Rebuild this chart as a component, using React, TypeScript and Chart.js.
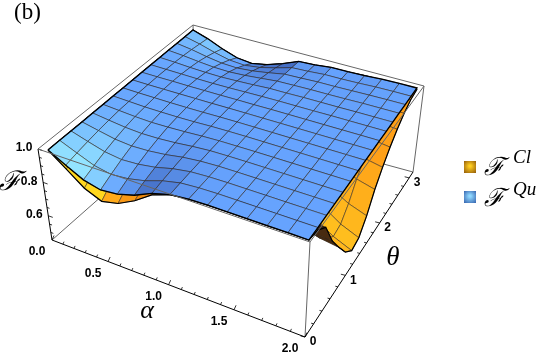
import React, { useEffect, useRef } from "react";
import { Chart, registerables } from "chart.js";

Chart.register(...registerables);

// ---- data -----------------------------------------------------------------
const alphaGrid = [0, 0.143, 0.286, 0.429, 0.571, 0.714, 0.857, 1, 1.143, 1.286, 1.429, 1.571, 1.714, 1.857, 2];
const thetaGrid = [0, 0.209, 0.419, 0.628, 0.838, 1.047, 1.257, 1.466, 1.676, 1.885, 2.094, 2.304, 2.513, 2.723, 2.932, 3.142];

// rows: alpha, columns: theta
const quantumValues = [
  [1, 1, 1, 1, 1, 1, 1, 1, 1, 1, 1, 1, 1, 1, 1, 1],
  [0.943, 0.957, 0.969, 0.979, 0.987, 0.993, 0.996, 0.998, 0.999, 0.999, 0.998, 0.996, 0.992, 0.986, 0.978, 0.97],
  [0.89, 0.916, 0.94, 0.959, 0.975, 0.986, 0.992, 0.997, 0.999, 0.999, 0.996, 0.99, 0.981, 0.967, 0.95, 0.93],
  [0.865, 0.897, 0.926, 0.95, 0.969, 0.982, 0.991, 0.996, 0.999, 0.998, 0.994, 0.986, 0.972, 0.952, 0.927, 0.898],
  [0.876, 0.906, 0.932, 0.954, 0.971, 0.984, 0.991, 0.996, 0.999, 0.998, 0.993, 0.984, 0.969, 0.947, 0.919, 0.887],
  [0.906, 0.929, 0.948, 0.965, 0.978, 0.988, 0.993, 0.997, 0.999, 0.998, 0.994, 0.987, 0.974, 0.955, 0.931, 0.904],
  [0.954, 0.965, 0.975, 0.983, 0.989, 0.994, 0.997, 0.999, 1, 0.999, 0.996, 0.991, 0.983, 0.97, 0.954, 0.936],
  [0.985, 0.989, 0.992, 0.994, 0.997, 0.998, 0.999, 1, 1, 0.999, 0.998, 0.997, 0.993, 0.988, 0.982, 0.975],
  [0.996, 0.997, 0.998, 0.999, 0.999, 0.999, 1, 1, 1, 1, 0.999, 0.997, 0.995, 0.991, 0.986, 0.98],
  [1, 1, 1, 1, 1, 1, 1, 1, 1, 1, 0.999, 0.999, 0.997, 0.995, 0.993, 0.99],
  [1, 1, 1, 1, 1, 1, 1, 1, 1, 1, 0.999, 0.999, 0.997, 0.995, 0.993, 0.99],
  [1, 1, 1, 1, 1, 1, 1, 1, 1, 1, 1, 0.999, 0.998, 0.997, 0.995, 0.993],
  [1, 1, 1, 1, 1, 1, 1, 1, 1, 1, 1, 1, 1, 0.999, 0.999, 0.998],
  [1, 1, 1, 1, 1, 1, 1, 1, 1, 1, 1, 1, 1, 1, 1, 1],
  [1, 1, 1, 1, 1, 1, 1, 1, 1, 1, 1, 1, 1, 1, 1, 1],
];

const classicalValues = [
  [1, 1, 1, 1, 1, 1, 1, 1, 1, 1, 1, 1, 1, 1, 1, 1],
  [0.92, 0.95, 0.966, 0.976, 0.985, 0.991, 0.995, 0.997, 0.998, 0.998, 0.997, 0.995, 0.99, 0.984, 0.976, 0.968],
  [0.84, 0.89, 0.935, 0.955, 0.972, 0.984, 0.99, 0.995, 0.997, 0.997, 0.994, 0.988, 0.979, 0.965, 0.948, 0.928],
  [0.797, 0.855, 0.92, 0.945, 0.966, 0.98, 0.989, 0.994, 0.997, 0.996, 0.992, 0.984, 0.97, 0.95, 0.925, 0.896],
  [0.82, 0.875, 0.927, 0.95, 0.968, 0.982, 0.989, 0.994, 0.997, 0.996, 0.991, 0.982, 0.967, 0.945, 0.917, 0.885],
  [0.873, 0.91, 0.944, 0.962, 0.975, 0.986, 0.991, 0.995, 0.997, 0.996, 0.992, 0.985, 0.972, 0.953, 0.929, 0.902],
  [0.945, 0.955, 0.972, 0.98, 0.987, 0.992, 0.995, 0.997, 0.998, 0.997, 0.994, 0.989, 0.981, 0.968, 0.952, 0.934],
  [0.985, 0.987, 0.99, 0.992, 0.995, 0.996, 0.997, 0.998, 0.998, 0.997, 0.996, 0.995, 0.991, 0.986, 0.98, 0.973],
  [0.996, 0.994, 0.987, 0.98, 0.975, 0.971, 0.97, 0.972, 0.976, 0.982, 0.987, 0.991, 0.993, 0.989, 0.984, 0.978],
  [1, 0.994, 0.978, 0.96, 0.941, 0.924, 0.913, 0.915, 0.928, 0.946, 0.96, 0.972, 0.982, 0.99, 0.991, 0.988],
  [1, 0.995, 0.97, 0.89, 0.86, 0.852, 0.831, 0.835, 0.86, 0.895, 0.922, 0.945, 0.965, 0.981, 0.99, 0.988],
  [1, 0.992, 0.95, 0.84, 0.78, 0.767, 0.735, 0.741, 0.78, 0.835, 0.877, 0.914, 0.945, 0.97, 0.988, 0.993],
  [1, 0.99, 0.94, 0.8, 0.72, 0.683, 0.64, 0.648, 0.7, 0.775, 0.833, 0.883, 0.925, 0.959, 0.984, 0.993],
  [1, 0.988, 0.93, 0.79, 0.69, 0.619, 0.566, 0.577, 0.64, 0.73, 0.8, 0.86, 0.91, 0.95, 0.98, 0.991],
  [1, 0.985, 0.93, 0.78, 0.673, 0.577, 0.518, 0.53, 0.6, 0.7, 0.777, 0.844, 0.9, 0.945, 0.978, 0.99],
];

const alphaMajor = [0, 0.5, 1, 1.5, 2];
const alphaMinor = [0.1, 0.2, 0.3, 0.4, 0.6, 0.7, 0.8, 0.9, 1.1, 1.2, 1.3, 1.4, 1.6, 1.7, 1.8, 1.9];
const thetaMajor = [0, 1, 2, 3];
const thetaMinor = [0.2, 0.4, 0.6, 0.8, 1.2, 1.4, 1.6, 1.8, 2.2, 2.4, 2.6, 2.8];
const fMajor = [0.6, 0.8, 1];
const fMinor = [0.5, 0.55, 0.65, 0.7, 0.75, 0.85, 0.9, 0.95];
const alphaLabels = ["0.0", "0.5", "1.0", "1.5", "2.0"];
const thetaLabels = ["0", "1", "2", "3"];
const fLabels = ["0.6", "0.8", "1.0"];

// ---- view of the box (the projection, not the data) ------------------------
type P = { x: number; y: number };
const ALPHA_MAX = 2;
const THETA_MAX = 3.142;
const F_TOP = 1;
const F_BOTTOM = 0.455;

function quad(c: number[][]) {
  const [[x0, y0], [x1, y1], [x2, y2], [x3, y3]] = c;
  const dx1 = x1 - x2, dx2 = x3 - x2, sx = x0 - x1 + x2 - x3;
  const dy1 = y1 - y2, dy2 = y3 - y2, sy = y0 - y1 + y2 - y3;
  const den = dx1 * dy2 - dx2 * dy1;
  const g = (sx * dy2 - dx2 * sy) / den;
  const h = (dx1 * sy - sx * dy1) / den;
  const a = x1 - x0 + g * x1, b = x3 - x0 + h * x3;
  const d = y1 - y0 + g * y1, e = y3 - y0 + h * y3;
  return (u: number, v: number): P => {
    const w = g * u + h * v + 1;
    return { x: (a * u + b * v + x0) / w, y: (d * u + e * v + y0) / w };
  };
}
// corners in order (alpha0,theta0), (alpha2,theta0), (alpha2,thetaMax), (alpha0,thetaMax)
const boxTop = quad([[38, 149], [310, 242], [424, 86], [193, 25]]);
const boxBottom = quad([[52, 240], [305, 337], [413, 172], [196, 113]]);
const surfaceTop = quad([[48, 150], [309, 240], [417, 88], [193, 30]]);

function onBox(alpha: number, theta: number, f: number): P {
  const u = alpha / ALPHA_MAX, v = theta / THETA_MAX;
  const t = boxTop(u, v), b = boxBottom(u, v);
  const z = (F_TOP - f) / (F_TOP - F_BOTTOM);
  return { x: t.x + (b.x - t.x) * z, y: t.y + (b.y - t.y) * z };
}
function onSurface(alpha: number, theta: number, f: number): P {
  const u = alpha / ALPHA_MAX, v = theta / THETA_MAX;
  const t = boxTop(u, v), b = boxBottom(u, v), s = surfaceTop(u, v);
  const z = (F_TOP - f) / (F_TOP - F_BOTTOM);
  return { x: s.x + (b.x - t.x) * z, y: s.y + (b.y - t.y) * z };
}

// ---- shading ---------------------------------------------------------------
const mix = (a: number[], b: number[], k: number) =>
  `rgb(${a.map((v, i) => Math.round(v + (b[i] - v) * k)).join(",")})`;

function slopes(table: number[][], i: number, j: number) {
  const dA = (table[i + 1][j] + table[i + 1][j + 1] - table[i][j] - table[i][j + 1]) / 2;
  const dT = (table[i][j + 1] + table[i + 1][j + 1] - table[i][j] - table[i + 1][j]) / 2;
  return { dA, dT };
}
const BLUE_BASE = [102, 163, 254];
const blueColor = (table: number[][], i: number, j: number) => {
  const { dA, dT } = slopes(table, i, j);
  const l = -dA + (dT > 0 ? 0.6 : 0.25) * dT;
  return l > 0
    ? mix(BLUE_BASE, [150, 232, 255], Math.min(1, l * 16))
    : mix(BLUE_BASE, [56, 90, 176], Math.min(1, -l * 20));
};
const UNDERSIDE = "rgb(72,42,16)";
const ORANGE_BASE = [255, 160, 24];
const orangeColor = (table: number[][], i: number, j: number) => {
  const { dA, dT } = slopes(table, i, j);
  if (i >= 10 && j >= 1 && j <= 3 && dT < -0.03) return UNDERSIDE;
  if (i >= 8) return mix(ORANGE_BASE, [255, 190, 30], Math.max(0, 1 - Math.abs(j - 6) / 4));
  const l = -dA + 0.6 * dT;
  if (l <= 0) return mix(ORANGE_BASE, [230, 124, 10], Math.min(1, -l * 14));
  return mix(ORANGE_BASE, [255, 215, 30], Math.min(1, l * 14));
};
const MESH = "rgba(40,35,35,0.62)";
const EDGE = "#000";
const BOX_GRAY = "#666";

function line(points: P[], color: string, width: number) {
  return {
    type: "line" as const,
    data: points,
    borderColor: color,
    borderWidth: width,
    pointRadius: 0,
    tension: 0,
    fill: false,
    clip: false,
  };
}

function surfaceDatasets(table: number[][], colorOf: (t: number[][], i: number, j: number) => string) {
  const out: any[] = [];
  for (let j = thetaGrid.length - 2; j >= 0; j--) {
    for (let i = 0; i < alphaGrid.length - 1; i++) {
      const pts = [
        onSurface(alphaGrid[i], thetaGrid[j], table[i][j]),
        onSurface(alphaGrid[i + 1], thetaGrid[j], table[i + 1][j]),
        onSurface(alphaGrid[i + 1], thetaGrid[j + 1], table[i + 1][j + 1]),
        onSurface(alphaGrid[i], thetaGrid[j + 1], table[i][j + 1]),
      ];
      out.push({
        ...line([...pts, pts[0]], MESH, 0.85),
        backgroundColor: colorOf(table, i, j),
        fill: "shape",
      });
    }
  }
  return out;
}

function outline(table: number[][], width: number) {
  const n = alphaGrid.length - 1, m = thetaGrid.length - 1;
  const pts: P[] = [];
  for (let i = 0; i <= n; i++) pts.push(onSurface(alphaGrid[i], thetaGrid[0], table[i][0]));
  for (let j = 1; j <= m; j++) pts.push(onSurface(alphaGrid[n], thetaGrid[j], table[n][j]));
  for (let i = n - 1; i >= 0; i--) pts.push(onSurface(alphaGrid[i], thetaGrid[m], table[i][m]));
  for (let j = m - 1; j >= 0; j--) pts.push(onSurface(alphaGrid[0], thetaGrid[j], table[0][j]));
  return line(pts, EDGE, width);
}

function buildDatasets() {
  const A = ALPHA_MAX, T = THETA_MAX, L = F_BOTTOM, H = F_TOP;
  const back = [
    line([onBox(0, 0, H), onBox(0, T, H), onBox(A, T, H)], BOX_GRAY, 1),
    line([onBox(0, 0, L), onBox(0, T, L), onBox(A, T, L)], BOX_GRAY, 1),
    line([onBox(0, T, L), onBox(0, T, H)], BOX_GRAY, 1),
    line([onBox(A, T, H), onBox(A, T, L)], BOX_GRAY, 1),
    line([onBox(A, 0, H), onBox(A, 0, L)], BOX_GRAY, 1),
  ];
  const front = [
    line([onBox(0, 0, H), onBox(A, 0, H), onBox(A, T, H)], BOX_GRAY, 1),
    line([onBox(0, 0, H), onBox(0, 0, L)], "#000", 1),
    line([onBox(0, 0, L), onBox(A, 0, L), onBox(A, T, L)], "#000", 1),
  ];
  const ticks: any[] = [];
  const aTick = (v: number, len: number) => {
    const p = onBox(v, 0, L);
    ticks.push(line([p, { x: p.x + len * 0.45, y: p.y - len }], "#000", 0.8));
  };
  alphaMajor.forEach((v) => aTick(v, 4.5));
  alphaMinor.forEach((v) => aTick(v, 2.5));
  const tTick = (v: number, len: number) => {
    const p = onBox(A, v, L);
    ticks.push(line([p, { x: p.x - len, y: p.y - len * 0.25 }], "#000", 0.8));
  };
  thetaMajor.forEach((v) => tTick(v, 4.5));
  thetaMinor.forEach((v) => tTick(v, 2.5));
  const fTick = (v: number, len: number) => {
    const p = onBox(0, 0, v);
    ticks.push(line([p, { x: p.x + len, y: p.y + len * 0.35 }], "#000", 0.8));
  };
  fMajor.forEach((v) => fTick(v, 4.5));
  fMinor.forEach((v) => fTick(v, 2.5));

  const painted = [
    ...back,
    ...front.slice(1),
    ...ticks,
    ...surfaceDatasets(classicalValues, orangeColor),
    outline(classicalValues, 1.2),
    ...surfaceDatasets(quantumValues, blueColor),
    outline(quantumValues, 1.3),
    front[0],
  ];
  // Chart.js paints the first dataset last
  return painted.reverse();
}

const labelsPlugin = {
  id: "labels3d",
  afterDatasetsDraw(chart: any) {
    const ctx = chart.ctx as CanvasRenderingContext2D;
    const sx = chart.scales.x, sy = chart.scales.y;
    const put = (text: string, px: number, py: number, font: string, align: CanvasTextAlign = "center", base: CanvasTextBaseline = "middle", color = "#000") => {
      ctx.font = font;
      ctx.textAlign = align;
      ctx.textBaseline = base;
      ctx.fillStyle = color;
      ctx.fillText(text, px, py);
    };
    const at = (p: P, dx: number, dy: number, text: string) =>
      put(text, sx.getPixelForValue(p.x) + dx, sy.getPixelForValue(p.y) + dy, "bold 12px 'Liberation Sans'");
    ctx.save();
    alphaMajor.forEach((v, i) => at(onBox(v, 0, F_BOTTOM), -15, 12, alphaLabels[i]));
    thetaMajor.forEach((v, i) => at(onBox(ALPHA_MAX, v, F_BOTTOM), 8, 5, thetaLabels[i]));
    fMajor.forEach((v, i) => at(onBox(0, 0, v), -14, -1, fLabels[i]));

    put("(b)", 14, 19, "23px 'Liberation Serif'", "left", "alphabetic");
    put("\u2131", 10, 183, "italic 27px 'DejaVu Serif'");
    put("\u03b1", 147, 311, "italic 26px 'Liberation Serif'");
    put("\u03b8", 393, 258, "italic 27px 'Liberation Serif'");

    const swatch = (y: number, inner: string, outer: string) => {
      const g = ctx.createRadialGradient(470, y + 5, 1, 470, y + 6, 9);
      g.addColorStop(0, inner);
      g.addColorStop(1, outer);
      ctx.fillStyle = g;
      ctx.fillRect(464, y, 12, 12);
    };
    swatch(161, "#ffce20", "#8a5208");
    swatch(191, "#8fd8ff", "#2f5aa8");
    put("\u2131", 494, 175, "italic 25px 'DejaVu Serif'", "center", "alphabetic");
    put("Cl", 513, 163, "italic 19px 'Liberation Serif'", "left", "alphabetic");
    put("\u2131", 494, 206, "italic 25px 'DejaVu Serif'", "center", "alphabetic");
    put("Qu", 513, 195, "italic 19px 'Liberation Serif'", "left", "alphabetic");
    ctx.restore();
  },
};

export default function App() {
  const ref = useRef<HTMLCanvasElement>(null);
  useEffect(() => {
    const chart = new Chart(ref.current as HTMLCanvasElement, {
      type: "scatter",
      data: { datasets: buildDatasets() as any },
      options: {
        animation: false,
        responsive: false,
        layout: { padding: 0 },
        scales: {
          x: { type: "linear", min: 0, max: 540, display: false },
          y: { type: "linear", min: 0, max: 358, reverse: true, display: false },
        },
        plugins: { legend: { display: false }, tooltip: { enabled: false } },
        events: [],
      },
      plugins: [labelsPlugin],
    });
    return () => chart.destroy();
  }, []);
  return (
    <div style={{ position: "absolute", left: 0, top: 0, width: 540, height: 358, background: "#fff" }}>
      <canvas ref={ref} width={540} height={358} style={{ display: "block" }} />
    </div>
  );
}
